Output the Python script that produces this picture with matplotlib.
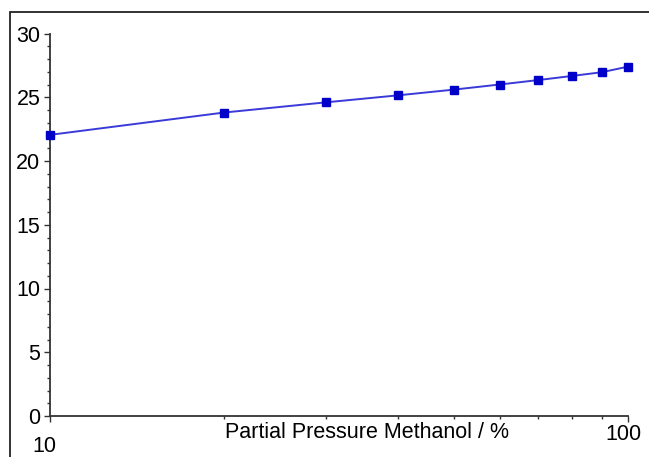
import matplotlib.pyplot as plt
import matplotlib.transforms as mtransforms
from matplotlib.patches import Rectangle
from matplotlib.ticker import MultipleLocator, FixedLocator, NullFormatter

plt.rcParams['font.family'] = ['Liberation Sans', 'DejaVu Sans']

pressure = [10, 20, 30, 40, 50, 60, 70, 80, 90, 100]
value = [22.05, 23.8, 24.6, 25.15, 25.6, 26.0, 26.35, 26.67, 26.96, 27.4]
xlabel = 'Partial Pressure Methanol / %'
xticks = [10, 100]
xticklabels = ['10', '100']

W, H = 649, 457
fig = plt.figure(figsize=(W / 100, H / 100), dpi=100)
ax = fig.add_axes([50 / W, (H - 416) / H, (628 - 50) / W, (416 - 33.5) / H])

# frame around the whole picture
fig.patches.append(Rectangle((10 / W, -0.2), 1.2, (H - 12) / H + 0.2,
                             transform=fig.transFigure, fill=False,
                             edgecolor='#222222', linewidth=1.3))

ax.plot(pressure, value, color='#3a3ad8', linewidth=1.4, marker='s',
        markersize=6, markerfacecolor='#0000c8', markeredgecolor='#0000c8',
        clip_on=False, zorder=3)

ax.set_xscale('log')
ax.set_xlim(10, 100)
ax.set_ylim(0, 30)
ax.xaxis.set_major_locator(FixedLocator(xticks))
ax.set_xticklabels(xticklabels)
ax.xaxis.set_minor_locator(FixedLocator(pressure[1:-1]))
ax.xaxis.set_minor_formatter(NullFormatter())
ax.yaxis.set_major_locator(MultipleLocator(5))
ax.yaxis.set_minor_locator(MultipleLocator(1))

for s in ['top', 'right']:
    ax.spines[s].set_visible(False)
for s in ['left', 'bottom']:
    ax.spines[s].set_color('#333333')
    ax.spines[s].set_linewidth(1.3)

ax.tick_params(axis='both', which='major', direction='out', length=4,
               width=1, color='#333333', labelsize=15.5, labelcolor='black')
ax.tick_params(axis='both', which='minor', direction='out', length=2.5,
               width=1, color='#333333')
ax.tick_params(axis='y', which='major', pad=3)
ax.tick_params(axis='x', which='major', pad=2)

# shift x tick labels like the original
offsets = [(-6, -12), (-5, 0)]
for lab, (dx, dy) in zip(ax.get_xticklabels(), offsets):
    lab.set_transform(lab.get_transform() +
                      mtransforms.ScaledTranslation(dx / 100, dy / 100, fig.dpi_scale_trans))

ax.set_xlabel(xlabel, fontsize=15.5)
ax.xaxis.set_label_coords((367 - 50) / (628 - 50), -(432 - 416) / (416 - 33.5))
ax.xaxis.label.set_va('center')

fig.savefig('out.png', dpi=100)
